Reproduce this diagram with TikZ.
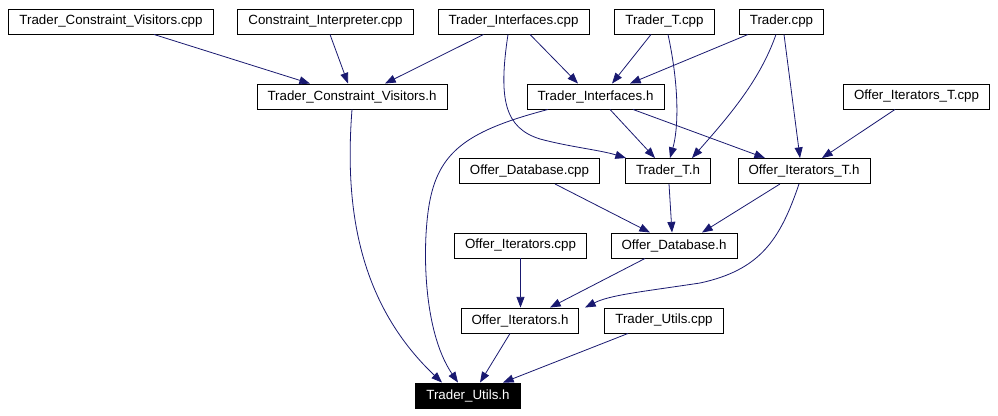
\documentclass[tikz,border=0pt]{standalone}
\usepackage{fontspec}
\setmainfont{Liberation Sans}
\usepackage{tikz}
\usetikzlibrary{arrows.meta,calc}
\definecolor{DGEdge}{HTML}{191970}
\definecolor{DGInk}{HTML}{000000}
\newcommand{\srcfile}[4]{%
  \node[filebox] (#1) at (#2,#3) {#4};
}
\newcommand{\incedge}[4]{%
  \draw[incl] ($(#1.south)+(#2,0)$) -- ($(#3.north)+(#4,0)$);
}

\begin{document}
\begin{tikzpicture}[x=0.75pt,y=-0.75pt,
  filebox/.style={draw=DGInk, fill=white, line width=0.7pt, inner xsep=7.9pt,
    inner ysep=0pt, minimum height=18.75pt, font=\fontsize{10}{12}\selectfont},
  focusbox/.style={filebox, fill=DGInk, text=white},
  incl/.style={draw=DGEdge, line width=0.6pt,
    -{Triangle[length=8pt,width=6pt]}, DGEdge}]
  \useasboundingbox (0,0) rectangle (998,415);

  % top row sources
  \srcfile{tcvcpp}{111}{21.5}{Trader\_Constraint\_Visitors.cpp}
  \srcfile{cicpp}{325.5}{21.5}{Constraint\_Interpreter.cpp}
  \srcfile{ticpp}{513.5}{21.5}{Trader\_Interfaces.cpp}
  \srcfile{ttcpp}{664.5}{21.5}{Trader\_T.cpp}
  \srcfile{trcpp}{781.5}{21.5}{Trader.cpp}

  \srcfile{tcvh}{352}{96.5}{Trader\_Constraint\_Visitors.h}
  \srcfile{tih}{595.5}{96.5}{Trader\_Interfaces.h}
  \srcfile{oitcpp}{916.5}{96.5}{Offer\_Iterators\_T.cpp}

  \srcfile{odbcpp}{529.5}{171}{Offer\_Database.cpp}
  \srcfile{tth}{668}{171}{Trader\_T.h}
  \srcfile{oith}{804}{171}{Offer\_Iterators\_T.h}

  \srcfile{oicpp}{520.5}{245.5}{Offer\_Iterators.cpp}
  \srcfile{odbh}{674}{245.5}{Offer\_Database.h}

  \srcfile{oih}{520}{320.5}{Offer\_Iterators.h}
  \srcfile{tucpp}{664}{320.5}{Trader\_Utils.cpp}

  \node[focusbox] (tuh) at (468,395.5) {Trader\_Utils.h};

  % straight includes
  \incedge{tcvcpp}{43}{tcvh}{-42}
  \incedge{cicpp}{4.5}{tcvh}{-4}
  \incedge{ticpp}{-30}{tcvh}{33}
  \incedge{ticpp}{16.5}{tih}{-17.5}
  \incedge{ttcpp}{-13.5}{tih}{16.5}
  \incedge{trcpp}{-33.5}{tih}{34.5}
  \incedge{trcpp}{2.5}{oith}{-4}
  \incedge{oitcpp}{-21.5}{oith}{18}
  \incedge{tih}{14.5}{tth}{-13}
  \incedge{tih}{37.5}{oith}{-39}
  \incedge{odbcpp}{25.5}{odbh}{-24}
  \incedge{tth}{1}{odbh}{-2}
  \incedge{oith}{-24}{odbh}{28}
  \incedge{oicpp}{0}{oih}{0.5}
  \incedge{odbh}{-29}{oih}{30}
  \incedge{oih}{-10}{tuh}{12}
  \incedge{tucpp}{-36}{tuh}{35}

  % bent includes
  \draw[incl] ($(ticpp.south)+(-5.5,0)$) .. controls (498,100) and (505,128) .. (540,139)
    .. controls (570,147) and (600,150) .. ($(tth.north west)+(1,0)$);
  \draw[incl] ($(ttcpp.south)+(3.5,0)$) .. controls (680,90) and (678,130) .. ($(tth.north)+(2,0)$);
  \draw[incl] ($(trcpp.south)+(-5.5,0)$) .. controls (760,80) and (730,115) .. ($(tth.north)+(24,0)$);
  \draw[incl] ($(tih.south)+(-47.5,0)$) .. controls (470,130) and (440,150) .. (430,200)
    .. controls (422,240) and (422,330) .. ($(tuh.north)+(-10,0)$);
  \draw[incl] (tcvh.south) .. controls (345,200) and (355,300) .. ($(tuh.north)+(-26,0)$);
  \draw[incl] ($(oith.south)+(-5,0)$) .. controls (780,240) and (760,270) .. (700,283)
    .. controls (640,292) and (610,295) .. ($(oih.north)+(65,0)$);
\end{tikzpicture}
\end{document}
